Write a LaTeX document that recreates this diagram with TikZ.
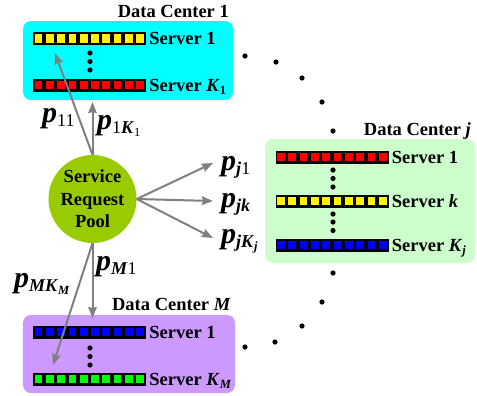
\documentclass[tikz,border=0pt]{standalone}
\usepackage{fontspec}
\setmainfont{Liberation Serif}
\usetikzlibrary{arrows.meta}

\definecolor{dccyan}{RGB}{0,255,255}
\definecolor{dcgreen}{RGB}{204,255,204}
\definecolor{dcpurple}{RGB}{204,153,255}
\definecolor{poolgreen}{RGB}{153,204,0}
\definecolor{flowgray}{RGB}{128,128,128}

% bold italic letters, subscripts
\newcommand{\bi}[1]{\textbf{\textit{#1}}}
\newcommand{\ssub}[1]{\raisebox{-3bp}{\fontsize{12.5bp}{12.5bp}\selectfont #1}}
\newcommand{\plab}[1]{{\fontsize{30bp}{30bp}\selectfont\bfseries\itshape p}\raisebox{-4.5bp}{\fontsize{18bp}{18bp}\selectfont #1}}

% server bar with ten slots and its label
\newcommand{\serverbar}[5]{%
  \node[bar] (#1) at (#2,#3) {};
  \foreach \c in {0,...,9}
    \fill[#4] ([xshift=\c*11.3bp+1.8bp, yshift=-4.3bp]#1.west) rectangle ++(7.7bp,8.6bp);
  \node[srvlabel] (#1-lbl) at ([xshift=3bp, yshift=-6.2bp]#1.east) {#5};
}

\begin{document}
\begin{tikzpicture}[x=1bp, y=-1bp,
  dcbox/.style={rounded corners=8bp, minimum width=210bp, inner sep=0pt},
  bar/.style={fill=black, minimum width=113bp, minimum height=13bp, inner sep=0pt},
  srvlabel/.style={anchor=base west, inner sep=0pt, font=\fontsize{18.5bp}{21bp}\selectfont\bfseries},
  dctitle/.style={anchor=base east, inner sep=0pt, font=\fontsize{18.5bp}{21bp}\selectfont\bfseries},
  flow/.style={draw=flowgray, line width=2bp, -{Stealth[length=11bp, width=8.5bp, inset=1bp]}},
  prob/.style={anchor=base west, inner sep=0pt}]
\useasboundingbox (0,0) rectangle (477,395);

% data centers
\node[dcbox, fill=dccyan, minimum height=79bp] (dc1) at (128,60.5) {};
\node[dcbox, fill=dcgreen, minimum height=124bp] (dcj) at (370,201) {};
\node[dcbox, fill=dcpurple, minimum width=212bp, minimum height=78bp] (dcM) at (129,354) {};

\node[dctitle] (t1) at (229,17) {Data Center 1};
\node[dctitle] (tj) at (471,135) {Data Center \textit{j}};
\node[dctitle] (tM) at (231,310) {Data Center \textit{M}};

% servers
\serverbar{s11}{89.5}{38.5}{yellow}{Server 1}
\serverbar{s1K}{89.5}{85}{red}{Server \textit{K}\ssub{1}}
\serverbar{sj1}{332}{157}{red}{Server 1}
\serverbar{sjk}{332}{201}{yellow}{Server \textit{k}}
\serverbar{sjK}{332}{245}{blue}{Server \textit{K}\ssub{\textit{j}}}
\serverbar{sM1}{89.5}{332}{blue}{Server 1}
\serverbar{sMK}{89.5}{379}{green}{Server \textit{K}\ssub{\textit{M}}}

% dots between servers
\foreach \y in {53,61.5,70,348,356.5,365}
  \fill (90,\y) circle (2.6bp);
\foreach \y in {131,170,178.5,187,214,222,230.5,273}
  \fill (333,\y) circle (2.6bp);

% dots between data centers
\foreach \p in {(245,56),(276,62),(302,78),(322,102),(322,302),(302,326),(275,342),(245,347)}
  \fill \p circle (2.6bp);

% request pool
\node[circle, fill=poolgreen, minimum size=88bp, inner sep=0pt, align=center,
  font=\fontsize{18.5bp}{22.5bp}\selectfont\bfseries] (pool) at (92.5,199) {Service\\Request\\Pool};

% arrows out of the pool
\coordinate (e11) at (55,53);
\coordinate (e1K) at (92.5,102);
\coordinate (ej1) at (213,163);
\coordinate (ejk) at (213,201);
\coordinate (ejK) at (213,238);
\coordinate (eM1) at (92.5,318);
\coordinate (eMK) at (53,365);

\draw[flow] (pool.north) -- (e11);
\draw[flow] (pool.north) -- (e1K);
\draw[flow] (pool.east) -- (ej1);
\draw[flow] (pool.east) -- (ejk);
\draw[flow] (pool.east) -- (ejK);
\draw[flow] (pool.south) -- (eM1);
\draw[flow] (pool.south) -- (eMK);

% probabilities
\node[prob] (p11) at (42,122) {\plab{\textnormal{11}}};
\node[prob] (p1K) at (97,129) {\plab{\textnormal{1}\bi{K}\ssub{\textnormal{1}}}};
\node[prob] (pj1) at (221,170) {\plab{\bi{j}\textnormal{1}}};
\node[prob] (pjk) at (221,207) {\plab{\bi{jk}}};
\node[prob] (pjK) at (221,243) {\plab{\bi{jK}\ssub{\bi{j}}}};
\node[prob] (pM1) at (96,270) {\plab{\bi{M}\textnormal{1}}};
\node[prob] (pMK) at (14,287) {\plab{\bi{MK}\ssub{\bi{M}}}};

\end{tikzpicture}
\end{document}
